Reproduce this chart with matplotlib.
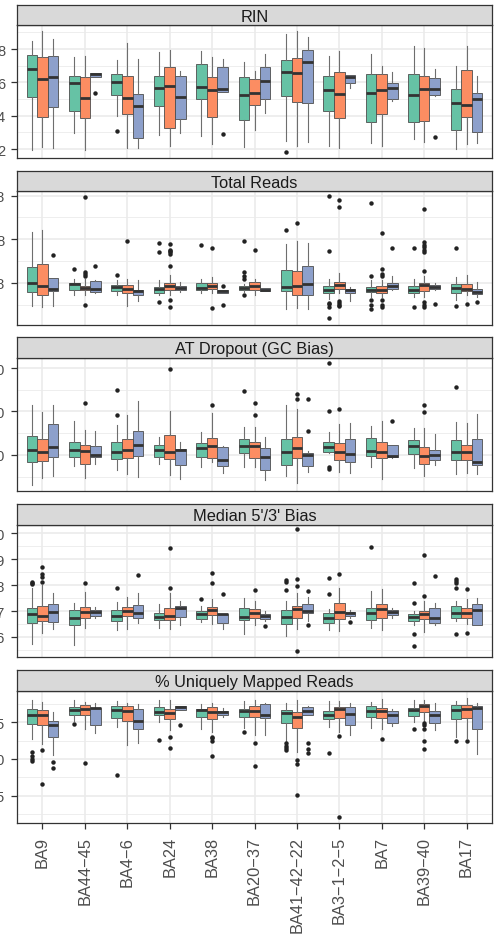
import matplotlib
matplotlib.use("Agg")
import matplotlib.pyplot as plt

plt.rcParams['font.family'] = ['Liberation Sans', 'DejaVu Sans']

regions = ["BA9", "BA44\u221245", "BA4\u22126", "BA24", "BA38", "BA20\u221237",
           "BA41\u221242\u221222", "BA3\u22121\u22122\u22125", "BA7", "BA39\u221240", "BA17"]
group_colors = ["#66C2A5", "#FC8D62", "#8DA0CB"]

# each box: (whisker low, q1, median, q3, whisker high)
rin_stats = [
    [(1.96, 5.14, 6.8, 7.64, 8.5), (2.14, 3.94, 6.2, 7.5, 9.06), (2.06, 4.5, 6.34, 7.6, 8.6)],
    [(2.96, 4.3, 5.96, 6.38, 7.5), (1.96, 3.84, 5.06, 6.34, 7.6), (6.3, 6.3, 6.5, 6.58, 6.58)],
    [(3.96, 5.24, 6.0, 6.48, 7.34), (2.06, 4.1, 5.06, 6.36, 8.34), (2.06, 2.64, 4.6, 5.3, 7.4)],
    [(2.84, 4.6, 5.64, 6.38, 7.8), (2.16, 3.24, 5.8, 6.9, 7.96), (2.96, 3.8, 5.1, 6.38, 6.7)],
    [(2.76, 5.0, 5.74, 7.1, 7.86), (2.3, 3.94, 5.56, 6.34, 7.5), (5.4, 5.4, 5.6, 6.94, 7.38)],
    [(2.1, 3.72, 5.24, 6.34, 7.2), (3.16, 4.64, 5.34, 6.2, 6.7), (4.14, 5.0, 6.1, 6.9, 7.7)],
    [(2.5, 5.2, 6.64, 7.34, 8.9), (2.16, 4.84, 6.56, 7.48, 9.06), (2.4, 4.76, 7.2, 7.96, 8.7)],
    [(2.16, 4.3, 5.54, 6.38, 7.6), (2.06, 3.84, 5.32, 6.6, 7.9), (5.66, 5.94, 6.34, 6.44, 6.44)],
    [(2.36, 3.6, 5.38, 6.48, 7.7), (2.16, 4.1, 5.56, 6.48, 7.0), (4.9, 5.0, 5.66, 5.98, 6.6)],
    [(2.6, 3.6, 5.26, 6.48, 8.2), (2.4, 3.66, 5.6, 6.38, 8.06), (5.16, 5.26, 5.6, 6.24, 6.8)],
    [(2.0, 3.14, 4.76, 5.6, 6.96), (2.3, 3.9, 4.66, 6.76, 8.2), (2.34, 3.04, 5.0, 5.38, 6.4)],
]
rin_out = [
    [[], [], []], [[], [], [5.38]], [[3.1], [], []], [[], [], []], [[], [], [2.9]],
    [[], [], []], [[1.8], [], []], [[], [], []], [[], [], []], [[], [], [2.74]], [[], [], []],
]

# total reads in units of 1e8
reads_stats = [
    [(0.47, 0.79, 1.0, 1.37, 2.16), (0.44, 0.73, 0.94, 1.43, 2.22), (0.48, 0.81, 0.87, 1.11, 1.11)],
    [(0.72, 0.85, 0.97, 1.0, 1.1), (0.72, 0.83, 0.89, 0.94, 1.1), (0.77, 0.79, 0.87, 1.04, 1.08)],
    [(0.73, 0.81, 0.91, 0.96, 1.06), (0.48, 0.76, 0.86, 0.96, 1.1), (0.58, 0.73, 0.81, 0.85, 1.06)],
    [(0.73, 0.78, 0.87, 0.91, 1.06), (0.72, 0.85, 0.94, 1.0, 1.19), (0.79, 0.83, 0.89, 0.93, 1.02)],
    [(0.76, 0.83, 0.89, 1.0, 1.1), (0.78, 0.86, 0.94, 1.0, 1.14), (0.78, 0.78, 0.81, 0.83, 0.83)],
    [(0.8, 0.85, 0.89, 0.92, 0.97), (0.72, 0.85, 0.92, 1.02, 1.1), (0.81, 0.81, 0.85, 0.89, 0.89)],
    [(0.41, 0.81, 0.91, 1.29, 1.9), (0.43, 0.73, 0.93, 1.27, 1.96), (0.4, 0.73, 0.98, 1.4, 1.92)],
    [(0.64, 0.77, 0.85, 0.92, 1.1), (0.76, 0.86, 0.95, 1.02, 1.23), (0.59, 0.76, 0.85, 0.86, 0.9)],
    [(0.68, 0.79, 0.85, 0.91, 1.06), (0.68, 0.77, 0.83, 0.92, 1.08), (0.85, 0.87, 0.92, 1.0, 1.15)],
    [(0.68, 0.77, 0.85, 0.92, 1.1), (0.68, 0.81, 0.95, 1.0, 1.15), (0.85, 0.87, 0.91, 0.95, 1.0)],
    [(0.6, 0.77, 0.89, 0.98, 1.14), (0.72, 0.82, 0.87, 0.97, 1.19), (0.68, 0.74, 0.79, 0.86, 1.02)],
]
reads_out = [
    [[], [], [1.64]],
    [[1.33], [2.96, 1.25, 1.2, 1.15, 0.5], [1.4]],
    [[1.19], [1.95], []],
    [[1.92, 1.7, 0.57], [1.9, 1.76, 1.73, 1.7, 1.67, 1.38, 0.6, 0.44], []],
    [[1.86], [1.81, 0.43], [0.92, 0.5]],
    [[1.96, 1.25, 1.17, 1.1, 0.72], [1.75], []],
    [[2.22], [2.37], []],
    [[2.98, 1.73, 0.54, 0.51, 0.44, 0.2], [2.9, 2.73, 0.58, 0.54, 0.5, 0.47], []],
    [[2.84, 1.16, 0.62, 0.49, 0.41], [2.15, 1.32, 1.21, 1.15, 0.62, 0.5, 0.45], [1.8]],
    [[1.8, 0.45], [2.7, 1.94, 1.88, 1.82, 1.76, 1.7, 1.27, 0.57, 0.5, 0.44], [0.51]],
    [[1.8, 0.48], [0.51], [0.57]],
]

at_stats = [
    [(3.1, 8.3, 11.2, 14.3, 21.5), (4.8, 8.7, 10.8, 13.7, 19.8), (5.2, 9.6, 11.8, 17.2, 21.4)],
    [(7.5, 9.5, 11.2, 13.1, 17.8), (4.6, 7.9, 11.0, 12.2, 15.8), (7.9, 9.5, 10.0, 12.0, 15.5)],
    [(6.5, 9.1, 10.8, 12.9, 16.8), (5.6, 9.3, 11.2, 13.7, 19.3), (5.0, 9.8, 12.2, 15.6, 22.4)],
    [(7.9, 9.6, 11.2, 12.2, 14.1), (5.4, 9.1, 10.8, 14.5, 20.0), (4.5, 7.7, 11.2, 11.4, 12.9)],
    [(7.2, 9.6, 11.6, 12.8, 15.2), (8.5, 9.3, 12.0, 13.9, 19.6), (5.8, 7.5, 8.9, 11.9, 12.0)],
    [(7.2, 10.4, 12.0, 13.7, 16.5), (7.2, 9.2, 12.0, 12.9, 16.4), (4.3, 6.6, 9.6, 11.6, 14.2)],
    [(5.2, 7.8, 10.8, 13.7, 21.6), (3.5, 9.2, 11.6, 14.1, 20.5), (6.2, 7.5, 10.1, 10.5, 11.0)],
    [(10.4, 10.8, 11.8, 12.9, 15.2), (6.2, 8.9, 10.8, 12.8, 17.2), (5.8, 8.5, 10.2, 13.7, 17.3)],
    [(7.2, 9.7, 11.0, 13.8, 16.6), (4.5, 9.2, 10.8, 12.9, 17.9), (9.3, 9.5, 9.8, 12.2, 12.2)],
    [(6.9, 10.2, 12.0, 13.5, 16.2), (5.2, 7.9, 9.8, 11.8, 16.2), (7.7, 8.8, 10.0, 11.2, 14.8)],
    [(5.6, 8.8, 10.8, 13.5, 17.5), (5.8, 8.8, 10.8, 12.2, 17.3), (5.6, 7.7, 8.5, 13.7, 19.5)],
]
at_out = [
    [[], [], []], [[], [22.0], []], [[25.0, 19.3], [], []], [[], [29.8], []], [[], [21.5], []],
    [[24.7], [22.0, 19.3], []], [[], [24.1, 22.9], [22.8, 15.6]],
    [[31.2, 20.0, 7.2, 6.8], [20.6], []], [[], [], [17.9]], [[], [21.4, 19.8], []], [[25.6], [], []],
]

bias_stats = [
    [(0.574, 0.655, 0.687, 0.713, 0.79), (0.616, 0.661, 0.681, 0.719, 0.80), (0.629, 0.659, 0.697, 0.728, 0.768)],
    [(0.571, 0.646, 0.672, 0.704, 0.73), (0.633, 0.674, 0.697, 0.717, 0.774), (0.672, 0.681, 0.697, 0.704, 0.715)],
    [(0.625, 0.661, 0.681, 0.703, 0.735), (0.629, 0.681, 0.70, 0.717, 0.755), (0.655, 0.674, 0.694, 0.722, 0.768)],
    [(0.635, 0.665, 0.677, 0.694, 0.726), (0.629, 0.665, 0.681, 0.713, 0.768), (0.648, 0.678, 0.71, 0.719, 0.739)],
    [(0.659, 0.668, 0.69, 0.70, 0.72), (0.651, 0.683, 0.703, 0.717, 0.745), (0.629, 0.652, 0.69, 0.69, 0.69)],
    [(0.61, 0.665, 0.677, 0.71, 0.749), (0.648, 0.674, 0.694, 0.706, 0.74), (0.66, 0.668, 0.681, 0.687, 0.70)],
    [(0.603, 0.651, 0.678, 0.703, 0.74), (0.629, 0.672, 0.706, 0.719, 0.77), (0.661, 0.694, 0.70, 0.728, 0.752)],
    [(0.625, 0.655, 0.672, 0.694, 0.706), (0.623, 0.668, 0.697, 0.73, 0.79), (0.672, 0.681, 0.691, 0.697, 0.705)],
    [(0.633, 0.665, 0.694, 0.713, 0.777), (0.625, 0.674, 0.706, 0.726, 0.786), (0.672, 0.685, 0.697, 0.703, 0.71)],
    [(0.648, 0.661, 0.677, 0.69, 0.70), (0.62, 0.668, 0.687, 0.70, 0.74), (0.648, 0.655, 0.672, 0.713, 0.732)],
    [(0.661, 0.674, 0.694, 0.719, 0.74), (0.651, 0.674, 0.694, 0.713, 0.745), (0.646, 0.646, 0.703, 0.726, 0.749)],
]
bias_out = [
    [[0.803, 0.808, 0.813], [0.868, 0.842, 0.832, 0.81], []],
    [[], [0.807], []],
    [[0.788], [], [0.839]],
    [[], [0.941, 0.79], []],
    [[0.748], [0.848, 0.806], [0.767]],
    [[], [0.78], [0.642]],
    [[0.819, 0.812, 0.78], [1.016, 0.823, 0.797, 0.545], [0.777, 0.646]],
    [[0.826, 0.765], [0.842], [0.657]],
    [[0.948], [], []],
    [[0.807, 0.732, 0.61, 0.567], [0.915, 0.758], [0.835]],
    [[0.823, 0.814, 0.807, 0.79, 0.61], [0.784, 0.616], []],
]

uniq_stats = [
    [(92.7, 94.7, 96.0, 96.8, 98.0), (92.0, 94.6, 95.9, 96.6, 97.7), (90.5, 93.0, 94.6, 95.1, 96.3)],
    [(95.1, 96.0, 96.6, 97.0, 98.0), (94.0, 95.9, 96.8, 97.3, 97.7), (93.5, 94.6, 96.9, 96.9, 97.6)],
    [(94.3, 95.6, 96.6, 97.1, 97.8), (91.9, 95.1, 96.5, 97.1, 97.6), (92.1, 94.1, 95.2, 96.7, 97.4)],
    [(95.0, 95.9, 96.3, 97.0, 98.0), (93.9, 95.4, 96.25, 96.8, 98.0), (96.6, 96.6, 97.0, 97.1, 97.1)],
    [(94.1, 95.7, 96.6, 96.8, 97.5), (93.7, 95.4, 96.4, 97.0, 97.6), (95.7, 95.9, 96.3, 96.5, 96.9)],
    [(94.2, 95.7, 96.5, 96.8, 97.8), (93.3, 95.7, 96.5, 97.1, 98.0), (93.3, 95.6, 96.0, 97.4, 97.6)],
    [(92.5, 94.9, 96.2, 96.6, 97.6), (90.9, 94.2, 95.7, 96.4, 98.0), (95.9, 95.9, 96.5, 97.0, 97.1)],
    [(94.3, 95.4, 96.0, 96.5, 97.9), (93.7, 95.6, 96.8, 97.0, 97.8), (93.3, 94.6, 96.1, 97.0, 97.6)],
    [(94.2, 95.7, 96.5, 97.1, 97.7), (94.1, 95.6, 96.5, 96.9, 98.1), (94.5, 94.8, 96.0, 96.5, 96.7)],
    [(95.0, 95.8, 96.6, 96.9, 98.0), (95.1, 96.4, 97.1, 97.5, 98.0), (93.9, 94.8, 96.0, 96.5, 97.6)],
    [(93.0, 95.4, 96.6, 97.3, 97.8), (92.9, 95.5, 96.7, 97.3, 98.3), (90.7, 94.0, 96.9, 97.1, 97.6)],
]
uniq_out = [
    [[91.0, 90.4, 90.0, 89.7], [91.25, 86.6], [89.6, 88.8]],
    [[94.7], [89.4], []],
    [[87.8], [], []],
    [[92.6], [93.0, 91.5], [94.6]],
    [[], [93.0, 92.8, 92.5, 90.4], []],
    [[93.6], [92.2, 89.1], []],
    [[92.1, 91.8, 91.5, 91.25], [89.8, 89.3, 85.1], [92.1, 91.3, 90.8]],
    [[90.8], [93.1, 82.2], []],
    [[], [92.7], []],
    [[94.0], [94.9, 94.6, 94.1, 92.4, 91.4], []],
    [[92.5], [92.5], []],
]

panel_titles = ["RIN", "Total Reads", "AT Dropout (GC Bias)", "Median 5'/3' Bias", "% Uniquely Mapped Reads"]
panel_stats = [rin_stats, reads_stats, at_stats, bias_stats, uniq_stats]
panel_outs = [rin_out, reads_out, at_out, bias_out, uniq_out]
panel_ylims = [(1.46, 9.44), (0.039, 3.105), (1.72, 32.3), (0.523, 1.031), (81.35, 99.19)]
panel_major = [[2, 4, 6, 8], [1, 2, 3], [10, 20, 30], [0.6, 0.7, 0.8, 0.9, 1.0], [85, 90, 95]]
panel_labels = [["2", "4", "6", "8"], ["1e+08", "2e+08", "3e+08"], ["10", "20", "30"],
                ["0.6", "0.7", "0.8", "0.9", "1.0"], ["85", "90", "95"]]
panel_minor = [[3, 5, 7, 9], [0.5, 1.5, 2.5], [5, 15, 25], [0.55, 0.65, 0.75, 0.85, 0.95],
               [82.5, 87.5, 92.5, 97.5]]

W, H = 496, 937
layout = [(6, 26, 159), (172, 192, 326), (338, 359, 492), (505, 526, 658), (671, 692, 824)]
xl, xr = 17, 492

fig = plt.figure(figsize=(W / 100, H / 100), dpi=100)
fig.patch.set_facecolor("white")

n = len(regions)
for i in range(5):
    st, sb, pb = layout[i]
    ax = fig.add_axes([xl / W, 1 - pb / H, (xr - xl) / W, (pb - sb) / H])
    sax = fig.add_axes([xl / W, 1 - sb / H, (xr - xl) / W, (sb - st) / H])

    ax.set_axisbelow(True)
    for g in range(3):
        bstats = []
        for r in range(n):
            lo, q1, med, q3, hi = panel_stats[i][r][g]
            bstats.append(dict(med=med, q1=q1, q3=q3, whislo=lo, whishi=hi,
                               fliers=panel_outs[i][r][g]))
        pos = [r + 1 + (g - 1) * 0.25 for r in range(n)]
        ax.bxp(bstats, positions=pos, widths=0.25, patch_artist=True, showcaps=False,
               boxprops=dict(facecolor=group_colors[g], edgecolor="#4D4D4D", linewidth=0.6),
               whiskerprops=dict(color="#6E6E6E", linewidth=0.8),
               medianprops=dict(color="#333333", linewidth=2.0, solid_capstyle="butt"),
               flierprops=dict(marker="o", markersize=3.2, markerfacecolor="#222222",
                               markeredgecolor="none"),
               manage_ticks=False)

    ax.set_xlim(0.4, n + 0.6)
    ax.set_ylim(*panel_ylims[i])
    ax.set_yticks(panel_major[i])
    ax.set_yticklabels(panel_labels[i])
    ax.set_yticks(panel_minor[i], minor=True)
    ax.set_xticks(range(1, n + 1))
    ax.grid(True, which="major", color="#EBEBEB", linewidth=1.2)
    ax.grid(True, which="minor", axis="y", color="#EBEBEB", linewidth=0.6)
    ax.tick_params(axis="y", which="minor", length=0)
    ax.tick_params(axis="y", which="major", length=4.3, width=0.9, color="#333333",
                   labelsize=10.5, labelcolor="#4D4D4D", pad=4.3)
    if i < 4:
        ax.tick_params(axis="x", length=0, labelbottom=False)
    else:
        ax.set_xticklabels(regions, rotation=90, ha="center", va="top")
        ax.tick_params(axis="x", length=4.3, width=0.9, color="#333333",
                       labelsize=11.8, labelcolor="#4D4D4D", pad=5)
    for s in ax.spines.values():
        s.set_color("#333333")
        s.set_linewidth(0.9)

    sax.set_facecolor("#D9D9D9")
    sax.set_xticks([])
    sax.set_yticks([])
    for s in sax.spines.values():
        s.set_color("#333333")
        s.set_linewidth(0.9)
    sax.text(0.5, 0.45, panel_titles[i], transform=sax.transAxes, ha="center", va="center",
             fontsize=11.8, color="#1A1A1A")

fig.savefig("out.png", dpi=100)
